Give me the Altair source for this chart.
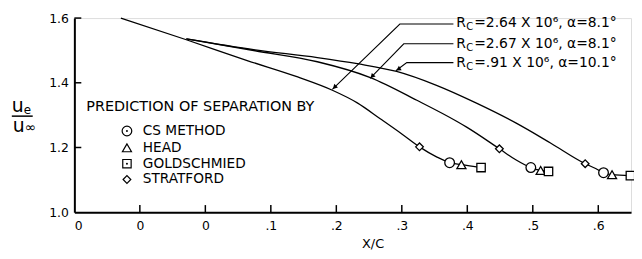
import altair as alt
import pandas as pd

FONT = "DejaVu Sans"

# ---- curves (X/C, Ue/Uinf) ----
c1_x = [-0.129, -0.029, 0.065, 0.141, 0.194, 0.232, 0.267, 0.300, 0.327, 0.353, 0.373, 0.391, 0.421]
c1_y = [1.600, 1.533, 1.468, 1.418, 1.377, 1.338, 1.289, 1.242, 1.202, 1.171, 1.153, 1.147, 1.138]
c2_x = [-0.029, 0.076, 0.171, 0.252, 0.323, 0.383, 0.399, 0.449, 0.474, 0.497, 0.512, 0.524]
c2_y = [1.536, 1.499, 1.465, 1.416, 1.346, 1.282, 1.263, 1.196, 1.162, 1.138, 1.129, 1.126]
c3_x = [-0.029, 0.076, 0.171, 0.232, 0.292, 0.353, 0.414, 0.474, 0.527, 0.580, 0.596, 0.608, 0.621, 0.649]
c3_y = [1.536, 1.502, 1.478, 1.459, 1.435, 1.392, 1.337, 1.276, 1.214, 1.150, 1.135, 1.122, 1.116, 1.113]

# ---- separation predictions ----
methods = ["CS METHOD", "HEAD", "GOLDSCHMIED", "STRATFORD"]
shapes = ["circle", "triangle-up", "square", "diamond"]
sep_method = ["STRATFORD", "CS METHOD", "HEAD", "GOLDSCHMIED"] * 3
sep_x = [0.327, 0.373, 0.391, 0.421, 0.449, 0.497, 0.512, 0.524, 0.580, 0.608, 0.621, 0.649]
sep_y = [1.202, 1.153, 1.147, 1.138, 1.196, 1.138, 1.129, 1.126, 1.150, 1.122, 1.116, 1.113]

# ---- axes ----
x_ticks = [-0.2, -0.1, 0.0, 0.1, 0.2, 0.3, 0.4, 0.5, 0.6]
y_ticks = [1.0, 1.2, 1.4, 1.6]
x_domain = [-0.2, 0.65]
y_domain = [1.0, 1.6]

# ---- annotations ----
lab_main = ["=2.64 X 10\u2076, \u03b1=8.1\u00b0", "=2.67 X 10\u2076, \u03b1=8.1\u00b0", "=.91 X 10\u2076, \u03b1=10.1\u00b0"]
lab_y = [1.5847, 1.5204, 1.4622]
lab_r_x = 0.3833
lab_c_x = 0.3985
lab_main_x = 0.4106
leader_id = [1, 1, 1, 2, 2, 2, 3, 3, 3]
leader_x = [0.3788, 0.2970, 0.1939, 0.3788, 0.3030, 0.2515, 0.3788, 0.3076, 0.2909]
leader_y = [1.5816, 1.5816, 1.3796, 1.5204, 1.5204, 1.4133, 1.4622, 1.4622, 1.4370]
arrow_x = [0.1972, 0.2547, 0.2947]
arrow_y = [1.3860, 1.4199, 1.4419]
arrow_angle = [226, 224, 238]

legend_title = "PREDICTION OF SEPARATION BY"
legend_title_x = -0.1818
legend_title_y = 1.3245
legend_sym_x = -0.1197
legend_text_x = -0.0955
legend_y = [1.2510, 1.1990, 1.1500, 1.1010]

xs = alt.Scale(domain=x_domain, nice=False, zero=False)
ys = alt.Scale(domain=y_domain, nice=False, zero=False)
xaxis = alt.Axis(values=x_ticks, title=None, grid=False, ticks=False, domainWidth=2,
                 domainColor="black", labelFont=FONT, labelFontSize=12.5, labelColor="black",
                 labelPadding=7,
                 labelExpr="datum.value < 0.05 ? '0' : replace(format(datum.value, '.1f'), '0.', '.')")
yaxis = alt.Axis(values=y_ticks, title=None, grid=False, ticks=False, domainWidth=2,
                 domainColor="black", labelFont=FONT, labelFontSize=12.5, labelColor="black",
                 labelPadding=6, format=".1f")


def X(f="x"):
    return alt.X(f"{f}:Q", scale=xs, axis=xaxis)


def Y(f="y"):
    return alt.Y(f"{f}:Q", scale=ys, axis=yaxis)


rows = []
for cid, xx, yy in [(1, c1_x, c1_y), (2, c2_x, c2_y), (3, c3_x, c3_y)]:
    for i, (a, b) in enumerate(zip(xx, yy)):
        rows.append({"curve": cid, "i": i, "x": a, "y": b})
curves = pd.DataFrame(rows)

line = alt.Chart(curves).mark_line(color="black", strokeWidth=1.3, interpolate="monotone").encode(
    x=X(), y=Y(), detail="curve:N", order="i:Q")

seps = pd.DataFrame({"m": sep_method, "x": sep_x, "y": sep_y})
shape_scale = alt.Scale(domain=methods, range=shapes)
markers = alt.Chart(seps).mark_point(filled=False, fill="white", fillOpacity=1, color="black",
                                     strokeWidth=1.3, opacity=1).encode(
    x=X(), y=Y(),
    shape=alt.Shape("m:N", scale=shape_scale, legend=None),
    size=alt.Size("m:N", scale=alt.Scale(domain=methods, range=[95, 60, 60, 70]), legend=None))

# inward tick marks
xt = pd.DataFrame({"x": x_ticks[1:], "y": [1.0] * 8, "y2": [1.022] * 8})
xtick = alt.Chart(xt).mark_rule(color="black", strokeWidth=1.5).encode(x=X(), y=Y(), y2="y2:Q")
yt = pd.DataFrame({"x": [-0.2] * 3, "x2": [-0.1894] * 3, "y": y_ticks[1:]})
ytick = alt.Chart(yt).mark_rule(color="black", strokeWidth=1.5).encode(x=X(), x2="x2:Q", y=Y())

# leaders
ld = pd.DataFrame({"id": leader_id, "i": list(range(9)), "x": leader_x, "y": leader_y})
leaders = alt.Chart(ld).mark_line(color="black", strokeWidth=1.1).encode(
    x=X(), y=Y(), detail="id:N", order="i:Q")
ar = pd.DataFrame({"x": arrow_x, "y": arrow_y, "a": arrow_angle})
arrows = alt.Chart(ar).mark_point(shape="triangle-up", filled=True, color="black", size=28, opacity=1).encode(
    x=X(), y=Y(), angle=alt.Angle("a:Q", scale=None))

labs = pd.DataFrame({"t": lab_main, "y": lab_y, "xr": [lab_r_x] * 3, "xc": [lab_c_x] * 3, "xm": [lab_main_x] * 3})
lab_r = alt.Chart(labs).mark_text(text="R", align="left", baseline="middle", font=FONT, fontSize=14).encode(
    x=X("xr"), y=Y())
lab_c = alt.Chart(labs).mark_text(text="C", align="left", baseline="middle", font=FONT, fontSize=10, dy=4).encode(
    x=X("xc"), y=Y())
lab_m = alt.Chart(labs).mark_text(align="left", baseline="middle", font=FONT, fontSize=14).encode(
    x=X("xm"), y=Y(), text="t:N")

# legend (drawn)
lt = pd.DataFrame({"t": [legend_title], "x": [legend_title_x], "y": [legend_title_y]})
leg_title = alt.Chart(lt).mark_text(align="left", baseline="middle", font=FONT, fontSize=14.5).encode(
    x=X(), y=Y(), text="t:N")
lg = pd.DataFrame({"m": methods, "x": [legend_sym_x] * 4, "xt": [legend_text_x] * 4, "y": legend_y})
leg_sym = alt.Chart(lg).mark_point(filled=False, color="black", strokeWidth=1.2, opacity=1).encode(
    x=X(), y=Y(), shape=alt.Shape("m:N", scale=shape_scale, legend=None),
    size=alt.Size("m:N", scale=alt.Scale(domain=methods, range=[65, 50, 50, 60]), legend=None))
dots = lg[lg["m"].isin(["CS METHOD", "GOLDSCHMIED"])]
leg_dot = alt.Chart(dots).mark_point(shape="circle", filled=True, color="black", size=4, opacity=1).encode(
    x=X(), y=Y())
leg_txt = alt.Chart(lg).mark_text(align="left", baseline="middle", font=FONT, fontSize=13.8).encode(
    x=X("xt"), y=Y(), text="m:N")

# y title (u_e / u_inf) and x title
yt_parts = pd.DataFrame({
    "t": ["u", "e", "u", "\u221e"],
    "x": [-0.2955, -0.2773, -0.2940, -0.2758],
    "y": [1.3102, 1.3040, 1.2480, 1.2480],
    "s": [19, 12, 19, 14],
})
ytitle = alt.Chart(yt_parts).mark_text(align="left", baseline="alphabetic", font=FONT).encode(
    x=X(), y=Y(), text="t:N", size=alt.Size("s:Q", scale=None))
frac = pd.DataFrame({"x": [-0.2955], "x2": [-0.2636], "y": [1.2969]})
fracline = alt.Chart(frac).mark_rule(color="black", strokeWidth=1.5).encode(x=X(), x2="x2:Q", y=Y())
xtl = pd.DataFrame({"t": ["X/C"], "x": [0.2561], "y": [0.902]})
xtitle = alt.Chart(xtl).mark_text(align="center", baseline="middle", font=FONT, fontSize=13).encode(
    x=X(), y=Y(), text="t:N")

chart = alt.layer(
    line, xtick, ytick, leaders, arrows, markers, lab_r, lab_c, lab_m,
    leg_title, leg_sym, leg_dot, leg_txt, ytitle, fracline, xtitle
).properties(
    width=562, height=196,
    autosize=alt.AutoSizeParams(type="none"),
    padding={"left": 67, "top": 9, "right": 3, "bottom": 38},
).configure_view(stroke=None).configure(background="white")

chart.save("out.html", embed_options={"renderer": "svg", "actions": False})
